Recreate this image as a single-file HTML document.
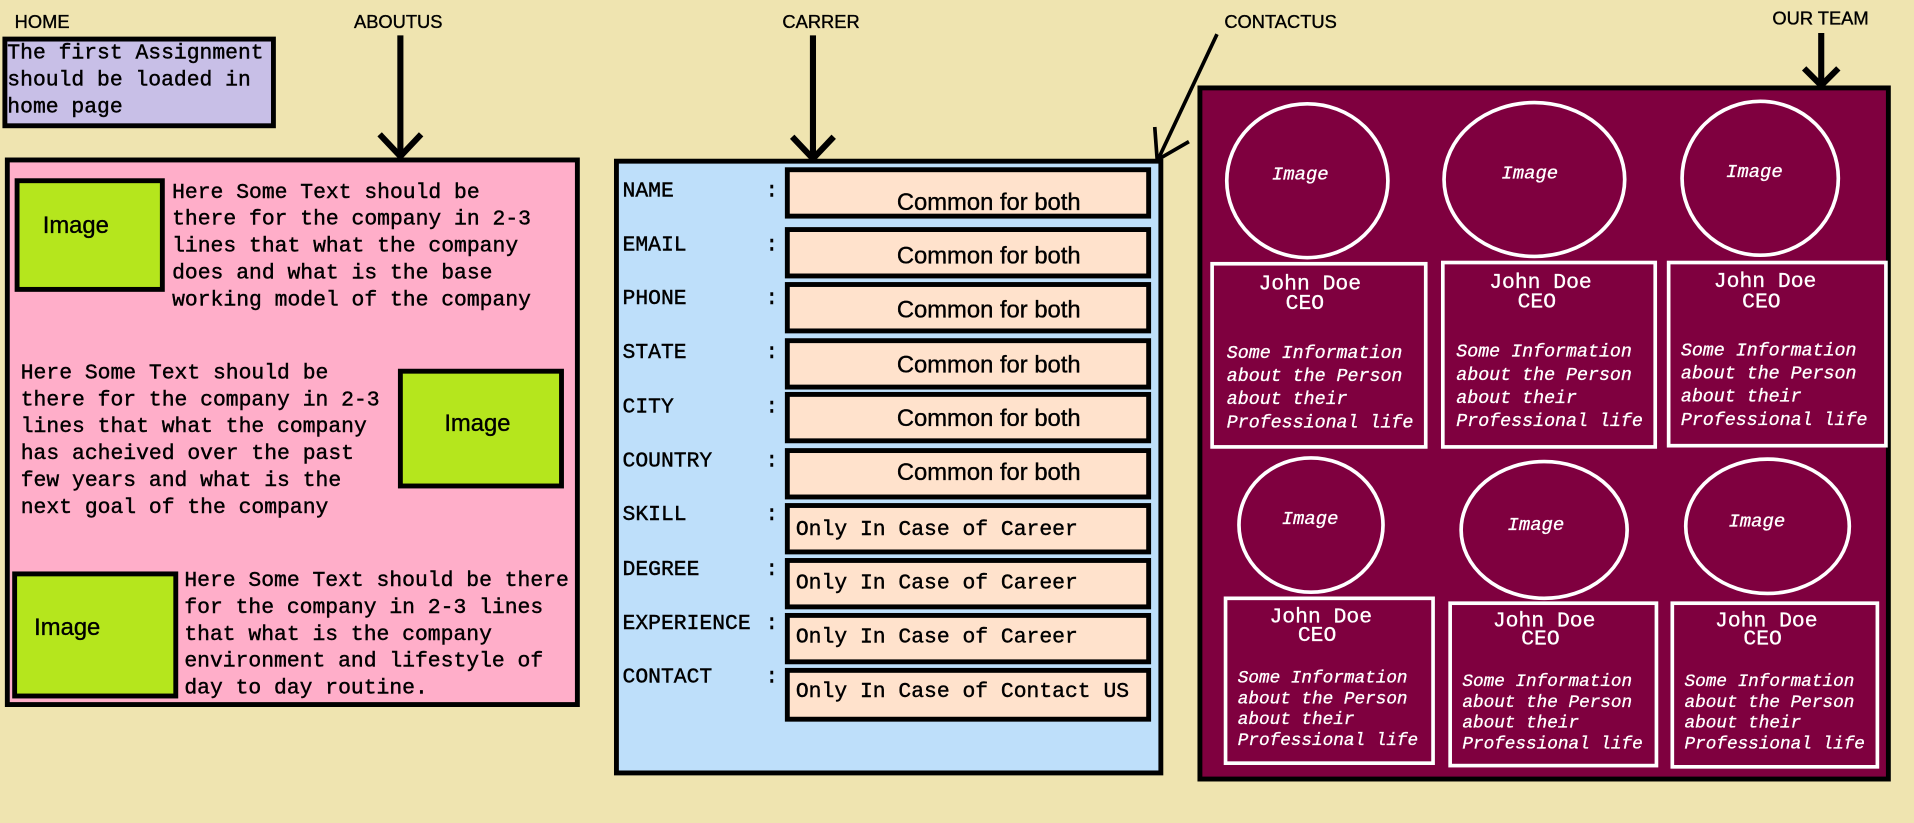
<!DOCTYPE html>
<html><head><meta charset="utf-8"><style>
html,body{margin:0;padding:0;background:#EFE4B0;}
svg{display:block;}
.l{font-family:"Liberation Sans",sans-serif;font-size:15px;fill:#000;stroke:#000;stroke-width:0.3px;}
.m{font-family:"Liberation Mono",monospace;font-size:17.5px;fill:#000;stroke:#000;stroke-width:0.35px;}
.c{font-family:"Liberation Sans",sans-serif;font-size:19.5px;fill:#000;stroke:#000;stroke-width:0.3px;}
.w{font-family:"Liberation Mono",monospace;fill:#fff;stroke:#fff;stroke-width:0.25px;}
</style></head><body>
<svg width="1914" height="823" viewBox="0 0 1568 674" preserveAspectRatio="none" xmlns="http://www.w3.org/2000/svg">
<rect x="0" y="0" width="1568" height="674" fill="#EFE4B0"/>
<text class="l" x="12" y="23">HOME</text>
<text class="l" x="290" y="23">ABOUTUS</text>
<text class="l" x="641" y="23">CARRER</text>
<text class="l" x="1003" y="23">CONTACTUS</text>
<text class="l" x="1452" y="20">OUR TEAM</text>

<rect x="4" y="32" width="220" height="71" fill="#C8BFE7" stroke="#000" stroke-width="4"/>
<text class="m" x="6" y="48">The first Assignment</text>
<text class="m" x="6" y="70">should be loaded in</text>
<text class="m" x="6" y="92">home page</text>

<g stroke="#000" stroke-width="5" fill="none">
<line x1="328" y1="29" x2="328" y2="128"/>
<polyline points="311,110 328,128 345,110"/>
<line x1="666" y1="29" x2="666" y2="130"/>
<polyline points="649,112 666,130 683,112"/>
<line x1="997" y1="28" x2="949" y2="130" stroke-width="3"/>
<polyline points="946,104 948,131 974,116" stroke-width="3"/>
<line x1="1492" y1="27" x2="1492" y2="70"/>
<polyline points="1478,56 1492,70 1506,56"/>
</g>

<rect x="6" y="131" width="467" height="446" fill="#FFAEC9" stroke="#000" stroke-width="4"/>
<rect x="14" y="148" width="119" height="89" fill="#B5E61D" stroke="#000" stroke-width="4"/>
<text class="c" x="35" y="191">Image</text>
<text class="m" x="141" y="162">Here Some Text should be</text>
<text class="m" x="141" y="184">there for the company in 2-3</text>
<text class="m" x="141" y="206">lines that what the company</text>
<text class="m" x="141" y="228">does and what is the base</text>
<text class="m" x="141" y="250">working model of the company</text>
<text class="m" x="17" y="310">Here Some Text should be</text>
<text class="m" x="17" y="332">there for the company in 2-3</text>
<text class="m" x="17" y="354">lines that what the company</text>
<text class="m" x="17" y="376">has acheived over the past</text>
<text class="m" x="17" y="398">few years and what is the</text>
<text class="m" x="17" y="420">next goal of the company</text>
<text class="m" x="151" y="480">Here Some Text should be there</text>
<text class="m" x="151" y="502">for the company in 2-3 lines</text>
<text class="m" x="151" y="524">that what is the company</text>
<text class="m" x="151" y="546">environment and lifestyle of</text>
<text class="m" x="151" y="568">day to day routine.</text>
<rect x="328" y="304" width="132" height="94" fill="#B5E61D" stroke="#000" stroke-width="4"/>
<text class="c" x="364" y="353">Image</text>
<rect x="12" y="470" width="132" height="100" fill="#B5E61D" stroke="#000" stroke-width="4"/>
<text class="c" x="28" y="520">Image</text>

<rect x="505" y="132" width="446" height="501" fill="#BEDFFA" stroke="#000" stroke-width="4"/>
<text class="m" x="510" y="161">NAME</text><text class="m" x="627" y="161">:</text>
<text class="m" x="510" y="205">EMAIL</text><text class="m" x="627" y="205">:</text>
<text class="m" x="510" y="249">PHONE</text><text class="m" x="627" y="249">:</text>
<text class="m" x="510" y="293">STATE</text><text class="m" x="627" y="293">:</text>
<text class="m" x="510" y="338">CITY</text><text class="m" x="627" y="338">:</text>
<text class="m" x="510" y="382">COUNTRY</text><text class="m" x="627" y="382">:</text>
<text class="m" x="510" y="426">SKILL</text><text class="m" x="627" y="426">:</text>
<text class="m" x="510" y="471">DEGREE</text><text class="m" x="627" y="471">:</text>
<text class="m" x="510" y="515">EXPERIENCE</text><text class="m" x="627" y="515">:</text>
<text class="m" x="510" y="559">CONTACT</text><text class="m" x="627" y="559">:</text>
<g fill="#FFE2CC" stroke="#000" stroke-width="4">
<rect x="645" y="139" width="296" height="38"/>
<rect x="645" y="188" width="296" height="38"/>
<rect x="645" y="233" width="296" height="38"/>
<rect x="645" y="279" width="296" height="38"/>
<rect x="645" y="323" width="296" height="38"/>
<rect x="645" y="369" width="296" height="38"/>
<rect x="645" y="414" width="296" height="38"/>
<rect x="645" y="459" width="296" height="38"/>
<rect x="645" y="504" width="296" height="38"/>
<rect x="645" y="549" width="296" height="40"/>
</g>
<text class="c" x="810" y="172" text-anchor="middle">Common for both</text>
<text class="c" x="810" y="216" text-anchor="middle">Common for both</text>
<text class="c" x="810" y="260" text-anchor="middle">Common for both</text>
<text class="c" x="810" y="305" text-anchor="middle">Common for both</text>
<text class="c" x="810" y="349" text-anchor="middle">Common for both</text>
<text class="c" x="810" y="393" text-anchor="middle">Common for both</text>
<text class="m" x="652" y="438">Only In Case of Career</text>
<text class="m" x="652" y="482">Only In Case of Career</text>
<text class="m" x="652" y="526">Only In Case of Career</text>
<text class="m" x="652" y="571">Only In Case of Contact US</text>

<rect x="983" y="72" width="564" height="566" fill="#7F003F" stroke="#000" stroke-width="4"/>
<g fill="none" stroke="#fff" stroke-width="3">
<ellipse cx="1071" cy="148" rx="66" ry="63"/>
<ellipse cx="1257" cy="147" rx="74" ry="63"/>
<ellipse cx="1442" cy="146" rx="64" ry="63"/>
<rect x="993" y="216" width="175" height="150"/>
<rect x="1182" y="215" width="174" height="151"/>
<rect x="1367" y="215" width="178" height="150"/>
<ellipse cx="1074" cy="430" rx="59" ry="55"/>
<ellipse cx="1265" cy="434" rx="68" ry="56"/>
<ellipse cx="1448" cy="431" rx="67" ry="55"/>
<rect x="1004" y="490" width="170" height="135"/>
<rect x="1188" y="494" width="169" height="133"/>
<rect x="1370" y="494" width="168" height="134"/>
</g>
<text class="w" x="1042" y="147" font-style="italic" font-size="15.5">Image</text>
<text class="w" x="1230" y="146" font-style="italic" font-size="15.5">Image</text>
<text class="w" x="1414" y="145" font-style="italic" font-size="15.5">Image</text>
<text class="w" x="1050" y="429" font-style="italic" font-size="15.5">Image</text>
<text class="w" x="1235" y="434" font-style="italic" font-size="15.5">Image</text>
<text class="w" x="1416" y="431" font-style="italic" font-size="15.5">Image</text>

<text class="w" x="1073" y="237" font-size="17.5" text-anchor="middle">John Doe</text>
<text class="w" x="1069" y="253" font-size="17.5" text-anchor="middle">CEO</text>
<text class="w" x="1262" y="236" font-size="17.5" text-anchor="middle">John Doe</text>
<text class="w" x="1259" y="252" font-size="17.5" text-anchor="middle">CEO</text>
<text class="w" x="1446" y="235" font-size="17.5" text-anchor="middle">John Doe</text>
<text class="w" x="1443" y="252" font-size="17.5" text-anchor="middle">CEO</text>
<text class="w" x="1082" y="510" font-size="17.5" text-anchor="middle">John Doe</text>
<text class="w" x="1079" y="525" font-size="17.5" text-anchor="middle">CEO</text>
<text class="w" x="1265" y="513" font-size="17.5" text-anchor="middle">John Doe</text>
<text class="w" x="1262" y="528" font-size="17.5" text-anchor="middle">CEO</text>
<text class="w" x="1447" y="513" font-size="17.5" text-anchor="middle">John Doe</text>
<text class="w" x="1444" y="528" font-size="17.5" text-anchor="middle">CEO</text>

<text class="w" x="1005" y="293" font-style="italic" font-size="15">Some Information</text>
<text class="w" x="1005" y="312" font-style="italic" font-size="15">about the Person</text>
<text class="w" x="1005" y="331" font-style="italic" font-size="15">about their</text>
<text class="w" x="1005" y="350" font-style="italic" font-size="15">Professional life</text>
<text class="w" x="1193" y="292" font-style="italic" font-size="15">Some Information</text>
<text class="w" x="1193" y="311" font-style="italic" font-size="15">about the Person</text>
<text class="w" x="1193" y="330" font-style="italic" font-size="15">about their</text>
<text class="w" x="1193" y="349" font-style="italic" font-size="15">Professional life</text>
<text class="w" x="1377" y="291" font-style="italic" font-size="15">Some Information</text>
<text class="w" x="1377" y="310" font-style="italic" font-size="15">about the Person</text>
<text class="w" x="1377" y="329" font-style="italic" font-size="15">about their</text>
<text class="w" x="1377" y="348" font-style="italic" font-size="15">Professional life</text>
<text class="w" x="1014" y="559" font-style="italic" font-size="14.5">Some Information</text>
<text class="w" x="1014" y="576" font-style="italic" font-size="14.5">about the Person</text>
<text class="w" x="1014" y="593" font-style="italic" font-size="14.5">about their</text>
<text class="w" x="1014" y="610" font-style="italic" font-size="14.5">Professional life</text>
<text class="w" x="1198" y="562" font-style="italic" font-size="14.5">Some Information</text>
<text class="w" x="1198" y="579" font-style="italic" font-size="14.5">about the Person</text>
<text class="w" x="1198" y="596" font-style="italic" font-size="14.5">about their</text>
<text class="w" x="1198" y="613" font-style="italic" font-size="14.5">Professional life</text>
<text class="w" x="1380" y="562" font-style="italic" font-size="14.5">Some Information</text>
<text class="w" x="1380" y="579" font-style="italic" font-size="14.5">about the Person</text>
<text class="w" x="1380" y="596" font-style="italic" font-size="14.5">about their</text>
<text class="w" x="1380" y="613" font-style="italic" font-size="14.5">Professional life</text>
</svg>
</body></html>
